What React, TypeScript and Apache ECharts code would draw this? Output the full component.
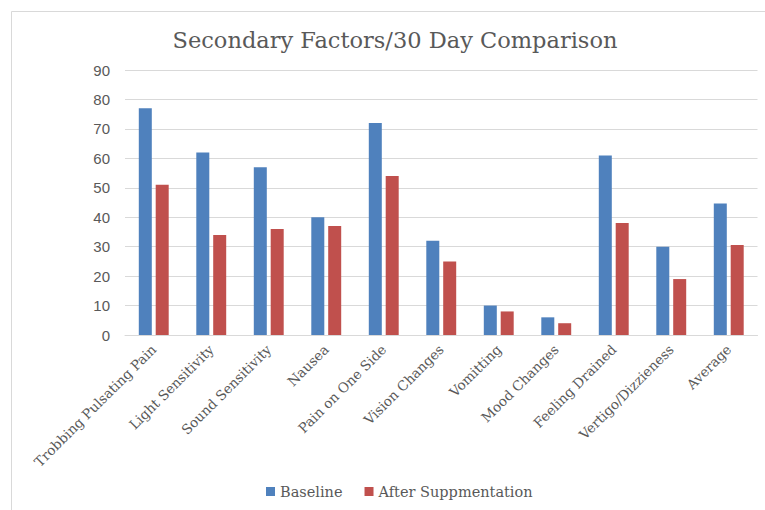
import React, { useEffect, useRef } from "react";
import * as echarts from "echarts";

const categories = [
  "Trobbing Pulsating Pain",
  "Light Sensitivity",
  "Sound Sensitivity",
  "Nausea",
  "Pain on One Side",
  "Vision Changes",
  "Vomitting",
  "Mood Changes",
  "Feeling Drained",
  "Vertigo/Dizzieness",
  "Average",
];
const baseline = [77, 62, 57, 40, 72, 32, 10, 6, 61, 30, 44.7];
const afterSupp = [51, 34, 36, 37, 54, 25, 8, 4, 38, 19, 30.6];
const seriesNames = ["Baseline", "After Suppmentation"];
const titleText = "Secondary Factors/30 Day Comparison";

export default function App() {
  const ref = useRef<HTMLDivElement>(null);
  useEffect(() => {
    if (!ref.current) return;
    const chart = echarts.init(ref.current, null, { renderer: "svg" });
    const serif = "DejaVu Serif";
    chart.setOption({
      animation: false,
      backgroundColor: "#ffffff",
      title: {
        text: titleText,
        left: 390,
        textAlign: "center",
        top: 23,
        textStyle: { fontFamily: serif, fontSize: 22.5, fontWeight: "normal", color: "#595959" },
      },
      graphic: [
        {
          type: "rect",
          shape: { x: 11.5, y: 11.5, width: 800, height: 600 },
          style: { fill: "none", stroke: "#d9d9d9", lineWidth: 1 },
          silent: true,
          z: -1,
        },
      ],
      legend: {
        data: seriesNames,
        top: 479,
        left: 261,
        itemWidth: 9,
        itemHeight: 9,
        itemGap: 22,
        icon: "rect",
        textStyle: { fontFamily: serif, fontSize: 14.5, color: "#595959" },
      },
      grid: { left: 125, right: 7.5, top: 70, bottom: 175, containLabel: false },
      xAxis: {
        type: "category",
        data: categories,
        axisLine: { lineStyle: { color: "#d9d9d9" } },
        axisTick: { show: false },
        axisLabel: {
          rotate: 45,
          interval: 0,
          margin: 12,
          fontFamily: serif,
          fontSize: 13.6,
          color: "#595959",
        },
      },
      yAxis: {
        type: "value",
        min: 0,
        max: 90,
        interval: 10,
        axisLine: { show: false },
        axisTick: { show: false },
        splitLine: { lineStyle: { color: "#d9d9d9" } },
        axisLabel: { fontFamily: "Liberation Sans", fontSize: 15, color: "#595959", margin: 15 },
      },
      series: [
        {
          name: seriesNames[0],
          type: "bar",
          data: baseline,
          barWidth: 13,
          barGap: "30%",
          itemStyle: { color: "#4F81BD" },
        },
        {
          name: seriesNames[1],
          type: "bar",
          data: afterSupp,
          barWidth: 13,
          itemStyle: { color: "#C0504D" },
        },
      ],
    });
    return () => chart.dispose();
  }, []);
  return (
    <div
      ref={ref}
      style={{ position: "fixed", left: 0, top: 0, width: 765, height: 510, background: "#fff" }}
    />
  );
}
